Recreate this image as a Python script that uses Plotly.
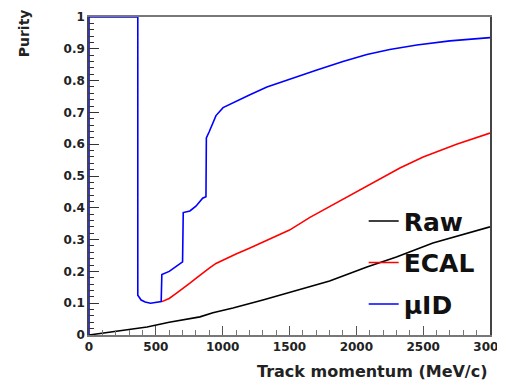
import plotly.graph_objects as go

# Raw purity
raw_x = [0, 200, 434, 600, 830, 927, 1077, 1301, 1578, 1800, 2079, 2300, 2573, 2800, 3000]
raw_y = [0.0, 0.012, 0.025, 0.04, 0.057, 0.07, 0.085, 0.11, 0.142, 0.17, 0.214, 0.245, 0.289, 0.315, 0.34]

# ECAL purity
ecal_x = [545, 600, 650, 700, 755, 800, 850, 900, 950, 1003, 1100, 1200, 1300, 1400, 1500,
          1653, 1825, 2000, 2124, 2326, 2500, 2750, 3000]
ecal_y = [0.105, 0.115, 0.13, 0.145, 0.163, 0.178, 0.195, 0.21, 0.225, 0.236, 0.255, 0.273, 0.292,
          0.31, 0.33, 0.37, 0.41, 0.45, 0.48, 0.525, 0.56, 0.6, 0.635]

# muID purity
muid_x = [0, 0, 365, 365, 390, 420, 460, 500, 540, 545, 600, 650, 700, 705, 755, 800, 850, 875, 878,
          900, 950, 1003, 1100, 1200, 1331, 1500, 1705, 1900, 2079, 2250, 2453, 2700, 3000]
muid_y = [0, 1, 1, 0.125, 0.11, 0.104, 0.1, 0.102, 0.105, 0.19, 0.2, 0.215, 0.23, 0.385, 0.39, 0.405,
          0.43, 0.435, 0.62, 0.64, 0.69, 0.715, 0.735, 0.755, 0.78, 0.805, 0.833, 0.86, 0.882, 0.898,
          0.912, 0.925, 0.935]

names = ["Raw", "ECAL", "\u03bcID"]
colors = ["#000000", "#ff0000", "#0000ff"]

fig = go.Figure()
for i, (xs, ys) in enumerate([(raw_x, raw_y), (ecal_x, ecal_y), (muid_x, muid_y)]):
    fig.add_trace(go.Scatter(x=xs, y=ys, mode="lines", name=names[i], legendgroup=names[i],
                             line=dict(color=colors[i], width=1.6)))

FAM = "DejaVu Sans, Liberation Sans, Arial, sans-serif"
tickfont = dict(family=FAM, size=12, color="#222", weight="bold")

fig.update_layout(
    width=497, height=377,
    margin=dict(l=81, r=15, t=9, b=50, autoexpand=False),
    paper_bgcolor="white", plot_bgcolor="white",
    showlegend=True,
    legend=dict(x=0.685, y=0.43, xanchor="left", yanchor="top", bgcolor="rgba(0,0,0,0)",
                borderwidth=0, itemwidth=30, tracegroupgap=6,
                font=dict(family=FAM, size=25, color="#111", weight="bold")),
    xaxis=dict(range=[0, 3000], dtick=500, tick0=0, ticks="inside", ticklen=9, tickwidth=1,
               tickcolor="#555", showline=True, linecolor="#777", linewidth=1.5, mirror=True,
               showgrid=False, zeroline=False, tickfont=tickfont, ticklabeloverflow="allow",
               automargin=False,
               minor=dict(dtick=100, ticks="inside", ticklen=5, tickcolor="#777")),
    yaxis=dict(range=[0, 1], dtick=0.1, tick0=0, ticks="inside", ticklen=10, tickwidth=1,
               tickcolor="#333", showline=True, linecolor="#444", linewidth=1.5, mirror=True,
               showgrid=False, zeroline=False, tickfont=tickfont, automargin=False,
               minor=dict(dtick=0.02, ticks="inside", ticklen=5, tickcolor="#333")),
    annotations=[
        dict(text="Purity", xref="paper", yref="paper", x=-0.16, y=1.03, xanchor="center",
             yanchor="top", textangle=-90, showarrow=False,
             font=dict(family=FAM, size=14, color="#222", weight="bold")),
        dict(text="Track momentum (MeV/c)", xref="paper", yref="paper", x=1.0, y=-0.116,
             xanchor="right", yanchor="middle", showarrow=False,
             font=dict(family=FAM, size=16, color="#222", weight="bold")),
    ],
)

fig.write_html("out.html")
